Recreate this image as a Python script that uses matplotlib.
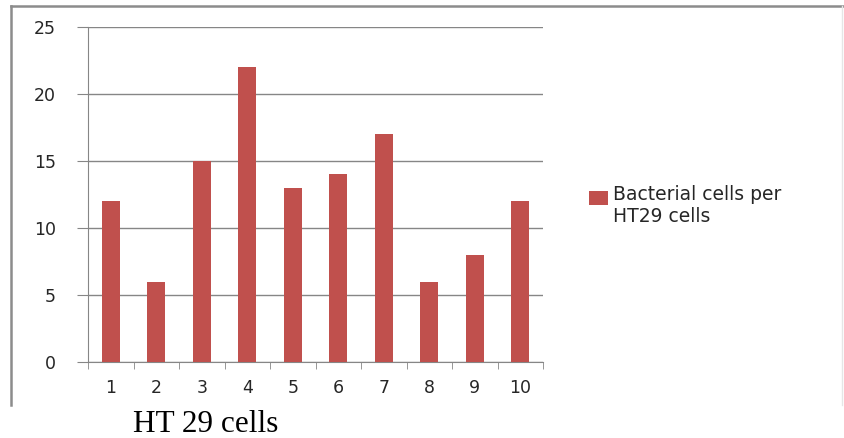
import matplotlib.pyplot as plt
import matplotlib.transforms as mtransforms
from matplotlib.lines import Line2D

# Data
categories = ["1", "2", "3", "4", "5", "6", "7", "8", "9", "10"]
bacteria_per_cell = [12, 6, 15, 22, 13, 14, 17, 6, 8, 12]
y_ticks = [0, 5, 10, 15, 20, 25]

W, H = 844, 438
fig = plt.figure(figsize=(W / 100, H / 100), dpi=100)

# Axes placed to match the plot area in pixels
ax = fig.add_axes([88 / W, 1 - 362 / H, (543 - 88) / W, (362 - 27) / H])

pos = range(len(categories))
ax.bar(pos, bacteria_per_cell, width=0.4, color="#C0504D", zorder=3,
       label="Bacterial cells per\nHT29 cells")

ax.set_xlim(-0.5, len(categories) - 0.5)
ax.set_ylim(0, 25)
ax.set_yticks(y_ticks)
ax.set_yticklabels([str(t) for t in y_ticks])
ax.yaxis.grid(True, color="#868686", linewidth=1, zorder=0)

# category ticks sit between the bars
ax.set_xticks([p for p in pos])
ax.set_xticklabels(categories)
ax.set_xticks([p - 0.5 for p in range(len(categories) + 1)], minor=True)
ax.tick_params(axis="x", which="major", length=0, pad=12, labelsize=12.5, labelcolor="#262626")
ax.tick_params(axis="x", which="minor", length=5, color="#868686", direction="out")
ax.tick_params(axis="y", length=8, color="#868686", direction="out", pad=15,
               labelsize=12.5, labelcolor="#262626")

for s in ["top", "right"]:
    ax.spines[s].set_visible(False)
ax.spines["left"].set_color("#868686")
ax.spines["bottom"].set_color("#868686")

leg = ax.legend(loc="center left", bbox_to_anchor=(572 / W, 1 - 206 / H),
                bbox_transform=fig.transFigure, frameon=False, fontsize=13.5,
                handlelength=1.0, handleheight=0.7, handletextpad=0.3,
                labelcolor="#262626")
# legend square lines up with the first text line, not the middle
h = leg.legend_handles[0]
h.set_transform(h.get_data_transform() + mtransforms.ScaledTranslation(0, 0.09, fig.dpi_scale_trans))

# outer chart frame
fig.add_artist(Line2D([11 / W, 1.0], [1 - 6 / H, 1 - 6 / H], color="#8c8c8c", linewidth=1.8,
                      transform=fig.transFigure))
fig.add_artist(Line2D([11 / W, 11 / W], [1 - 6 / H, 1 - 405 / H], color="#8c8c8c", linewidth=1.8,
                      transform=fig.transFigure))
fig.add_artist(Line2D([842 / W, 842 / W], [1 - 6 / H, 1 - 405 / H], color="#e6e6e6", linewidth=1,
                      transform=fig.transFigure))

fig.text(133 / W, 1 - 424 / H, "HT 29 cells", family="Liberation Serif", fontsize=22.5,
         ha="left", va="center", color="black")

fig.savefig("out.png", dpi=100)
